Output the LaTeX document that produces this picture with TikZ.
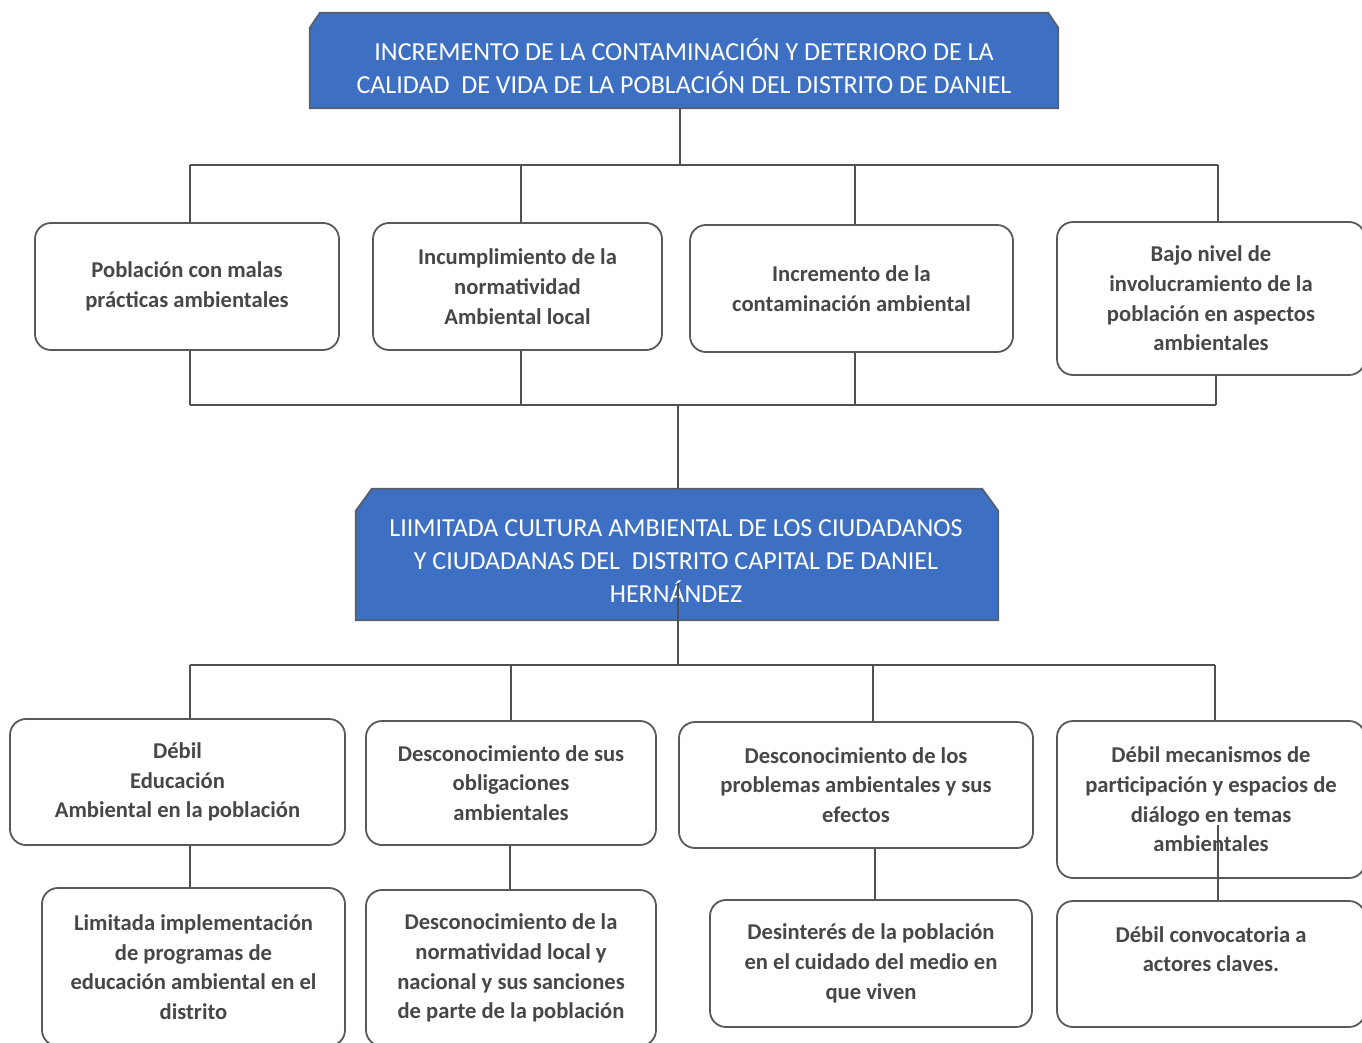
\documentclass[tikz,border=0pt]{standalone}
\usepackage{fontspec}
\setmainfont{Carlito}
\definecolor{txt}{HTML}{474747}
\definecolor{edge}{HTML}{595959}
\definecolor{banner}{HTML}{3D70C2}
\definecolor{bannerline}{HTML}{55606E}
\definecolor{linkc}{HTML}{505050}
\begin{document}
\begin{tikzpicture}[x=1pt,y=-1pt,
  box/.style={draw=edge, line width=1.8pt, rounded corners=16pt, fill=white,
    align=center, font=\fontsize{22.6}{29.7}\selectfont\bfseries, text=txt, inner sep=0pt},
  headframe/.style={rectangle, inner sep=0pt},
  headfill/.style={draw=bannerline, line width=1.8pt, fill=banner, line join=miter},
  headtext/.style={text=white, align=center, inner sep=0pt,
    font=\fontsize{26}{33}\selectfont},
  linkline/.style={draw=linkc, line width=1.4pt}]
\useasboundingbox[fill=white] (0,0) rectangle (1362,1043);

% banners
\node[headframe, minimum width=748pt, minimum height=95pt] (H1) at (684,60.5) {};
\path[headfill] (H1.south west) -- ([yshift=-15pt]H1.north west) -- ([xshift=10pt]H1.north west)
  -- ([xshift=-10pt]H1.north east) -- ([yshift=-15pt]H1.north east) -- (H1.south east) -- cycle;
\node[headtext] (H1t) at (684,66)
  {INCREMENTO DE LA CONTAMINACIÓN Y DETERIORO DE LA\\CALIDAD \ DE VIDA DE LA POBLACIÓN DEL DISTRITO DE DANIEL};
\node[headframe, minimum width=642pt, minimum height=131pt] (H2) at (677,554.5) {};
\path[headfill] (H2.south west) -- ([yshift=-22pt]H2.north west) -- ([xshift=16pt]H2.north west)
  -- ([xshift=-16pt]H2.north east) -- ([yshift=-22pt]H2.north east) -- (H2.south east) -- cycle;
\node[headtext] (H2t) at (676,561)
  {LIIMITADA CULTURA AMBIENTAL DE LOS CIUDADANOS\\Y CIUDADANAS DEL \ DISTRITO CAPITAL DE DANIEL\\HERNÁNDEZ};

% effects
\node[box, minimum width=304pt, minimum height=127pt] (A1) at (187,286.5) {Población con malas\\prácticas ambientales};
\node[box, minimum width=289pt, minimum height=127pt] (A2) at (517.5,286.5) {Incumplimiento de la\\normatividad\\Ambiental local};
\node[box, minimum width=323pt, minimum height=127pt] (A3) at (851.5,288.5) {Incremento de la\\contaminación ambiental};
\node[box, minimum width=308pt, minimum height=153pt] (A4) at (1211,298.5) {Bajo nivel de\\involucramiento de la\\población en aspectos\\ambientales};

% causes
\node[box, minimum width=335pt, minimum height=126pt] (B1) at (177.5,782) {Débil\\Educación\\Ambiental en la población};
\node[box, minimum width=290pt, minimum height=124pt] (B2) at (511,783) {Desconocimiento de sus\\obligaciones\\ambientales};
\node[box, minimum width=354pt, minimum height=126pt] (B3) at (856,785) {Desconocimiento de los\\problemas ambientales y sus\\efectos};
\node[box, minimum width=308pt, minimum height=157pt] (B4) at (1211,799.5) {Débil mecanismos de\\participación y espacios de\\diálogo en temas\\ambientales};

\node[box, minimum width=303pt, minimum height=158pt] (C1) at (193.5,967) {Limitada implementación\\de programas de\\educación ambiental en el\\distrito};
\node[box, minimum width=290pt, minimum height=156pt] (C2) at (511,968) {Desconocimiento de la\\normatividad local y\\nacional y sus sanciones\\de parte de la población};
\node[box, minimum width=322pt, minimum height=127pt] (C3) at (871,963.5) {Desinterés de la población\\en el cuidado del medio en\\que viven};
\node[box, minimum width=308pt, minimum height=126pt] (C4) at (1211,964) {Débil convocatoria a\\actores claves.\\~};

% bus coordinates
\coordinate (t0) at (680,165);
\coordinate (t1) at (190,165);
\coordinate (t2) at (521,165);
\coordinate (t3) at (855,165);
\coordinate (t4) at (1218,165);
\coordinate (m0) at (678,405);
\coordinate (m1) at (190,405);
\coordinate (m2) at (521,405);
\coordinate (m3) at (855,405);
\coordinate (m4) at (1216,405);
\coordinate (h2in) at (678,583);
\coordinate (l0) at (678,665);
\coordinate (l1) at (190,665);
\coordinate (l2) at (511,665);
\coordinate (l3) at (873,665);
\coordinate (l4) at (1215,665);
\coordinate (b4in) at (1218,825);

% top connectors
\draw[linkline] (t0 |- H1.south) -- (t0);
\draw[linkline] (t1) -- (t4);
\draw[linkline] (t1) -- (t1 |- A1.north);
\draw[linkline] (t2) -- (t2 |- A2.north);
\draw[linkline] (t3) -- (t3 |- A3.north);
\draw[linkline] (t4) -- (t4 |- A4.north);

% middle connectors
\draw[linkline] (m1 |- A1.south) -- (m1);
\draw[linkline] (m2 |- A2.south) -- (m2);
\draw[linkline] (m3 |- A3.south) -- (m3);
\draw[linkline] (m4 |- A4.south) -- (m4);
\draw[linkline] (m1) -- (m4);
\draw[linkline] (m0) -- (m0 |- H2.north);

% lower connectors
\draw[linkline] (h2in) -- (l0);
\draw[linkline] (l1) -- (l4);
\draw[linkline] (l1) -- (l1 |- B1.north);
\draw[linkline] (l2) -- (l2 |- B2.north);
\draw[linkline] (l3) -- (l3 |- B3.north);
\draw[linkline] (l4) -- (l4 |- B4.north);

\draw[linkline] (l1 |- B1.south) -- (l1 |- C1.north);
\draw[linkline] (510,0 |- B2.south) -- (510,0 |- C2.north);
\draw[linkline] (875,0 |- B3.south) -- (875,0 |- C3.north);
\draw[linkline] (b4in) -- (b4in |- C4.north);
\end{tikzpicture}
\end{document}
